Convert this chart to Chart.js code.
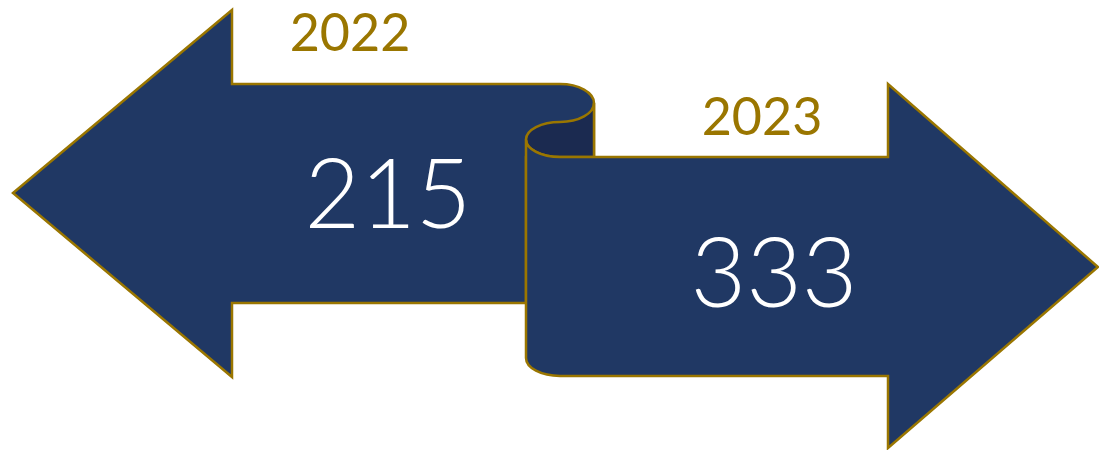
<!DOCTYPE html>
<html>
<head>
<meta charset="utf-8">
<script src="https://cdn.jsdelivr.net/npm/chart.js@4"></script>
<style>
  html, body { margin: 0; padding: 0; background: #fff; }
  #wrap { width: 1099px; height: 450px; position: relative; }
</style>
</head>
<body>
<div id="wrap"><canvas id="arrowChart"></canvas></div>
<script>
// Datos
const years = ['2022', '2023'];
const values = [215, 333];

// Colores
const FILL = '#203864';
const FILL_DARK = '#1b2a50';
const GOLD = '#9a7600';

/* ========= GEOMETRÍA (unidades de los ejes) ========= */
const leftArrow = { tipX: 13, tipY: 193, headX: 232, headTop: 10, headBottom: 377, shaftTop: 84, shaftBottom: 303 };
const rightArrow = { tipX: 1098, tipY: 267, headX: 888, headTop: 84, headBottom: 448, shaftTop: 157, shaftBottom: 376, shaftLeft: 526 };
const curl = { cx: 560, rx: 34, topCy: 103, topRy: 19, lowCy: 139.5, lowRy: 17.5, right: 594 };

// posiciones de textos: [año, valor]
const labelPos = [
  { yearX: 350, yearY: 51, valX: 388, valY: 228 },
  { yearX: 762, yearY: 135, valX: 774, valY: 307 }
];

const arrowsPlugin = {
  id: 'arrows',
  afterDraw(chart) {
    const { ctx, scales } = chart;
    const X = v => scales.x.getPixelForValue(v);
    const Y = v => scales.y.getPixelForValue(v);
    const sx = Math.abs(X(1) - X(0));
    const sy = Math.abs(Y(1) - Y(0));
    const L = leftArrow, R = rightArrow, C = curl;

    ctx.save();
    ctx.lineWidth = 2.5;
    ctx.lineJoin = 'miter';
    ctx.strokeStyle = GOLD;

    // flecha izquierda (2022)
    ctx.beginPath();
    ctx.moveTo(X(L.tipX), Y(L.tipY));
    ctx.lineTo(X(L.headX), Y(L.headTop));
    ctx.lineTo(X(L.headX), Y(L.shaftTop));
    ctx.lineTo(X(C.cx), Y(L.shaftTop));
    ctx.ellipse(X(C.cx), Y(C.topCy), C.rx * sx, C.topRy * sy, 0, -Math.PI / 2, 0);
    ctx.lineTo(X(C.right), Y(R.shaftTop));
    ctx.lineTo(X(R.shaftLeft), Y(R.shaftTop));
    ctx.lineTo(X(R.shaftLeft), Y(L.shaftBottom));
    ctx.lineTo(X(L.headX), Y(L.shaftBottom));
    ctx.lineTo(X(L.headX), Y(L.headBottom));
    ctx.closePath();
    ctx.fillStyle = FILL;
    ctx.fill();
    ctx.stroke();

    // rizo oscuro
    ctx.beginPath();
    ctx.moveTo(X(C.right), Y(C.topCy));
    ctx.lineTo(X(C.right), Y(R.shaftTop));
    ctx.lineTo(X(C.cx), Y(R.shaftTop));
    ctx.ellipse(X(C.cx), Y(C.lowCy), C.rx * sx, C.lowRy * sy, 0, Math.PI / 2, Math.PI * 1.5);
    ctx.ellipse(X(C.cx), Y(C.topCy), C.rx * sx, C.topRy * sy, 0, Math.PI / 2, 0, true);
    ctx.closePath();
    ctx.fillStyle = FILL_DARK;
    ctx.fill();
    ctx.stroke();

    // flecha derecha (2023)
    ctx.beginPath();
    ctx.moveTo(X(R.headX), Y(R.shaftTop));
    ctx.lineTo(X(R.headX), Y(R.headTop));
    ctx.lineTo(X(R.tipX), Y(R.tipY));
    ctx.lineTo(X(R.headX), Y(R.headBottom));
    ctx.lineTo(X(R.headX), Y(R.shaftBottom));
    ctx.lineTo(X(C.cx), Y(R.shaftBottom));
    ctx.ellipse(X(C.cx), Y(R.shaftBottom - 18), C.rx * sx, 18 * sy, 0, Math.PI / 2, Math.PI);
    ctx.lineTo(X(R.shaftLeft), Y(C.lowCy));
    ctx.ellipse(X(C.cx), Y(C.lowCy), C.rx * sx, C.lowRy * sy, 0, Math.PI, Math.PI / 2, true);
    ctx.closePath();
    ctx.fillStyle = FILL;
    ctx.fill();
    ctx.stroke();

    // textos
    ctx.textAlign = 'center';
    ctx.textBaseline = 'alphabetic';
    years.forEach((year, i) => {
      const p = labelPos[i];
      ctx.fillStyle = GOLD;
      ctx.font = '400 52px Lato, "Open Sans", sans-serif';
      ctx.fillText(year, X(p.yearX), Y(p.yearY));
      ctx.fillStyle = '#ffffff';
      ctx.font = '300 96px Lato, "Open Sans", sans-serif';
      ctx.fillText(String(values[i]), X(p.valX), Y(p.valY));
    });
    ctx.restore();
  }
};

new Chart(document.getElementById('arrowChart'), {
  type: 'scatter',
  data: { datasets: [] },
  options: {
    responsive: true,
    maintainAspectRatio: false,
    animation: false,
    layout: { padding: 0 },
    plugins: { legend: { display: false }, tooltip: { enabled: false } },
    scales: {
      x: { type: 'linear', min: 0, max: 1099, display: false },
      y: { type: 'linear', min: 0, max: 450, reverse: true, display: false }
    }
  },
  plugins: [arrowsPlugin]
});
</script>
</body>
</html>
